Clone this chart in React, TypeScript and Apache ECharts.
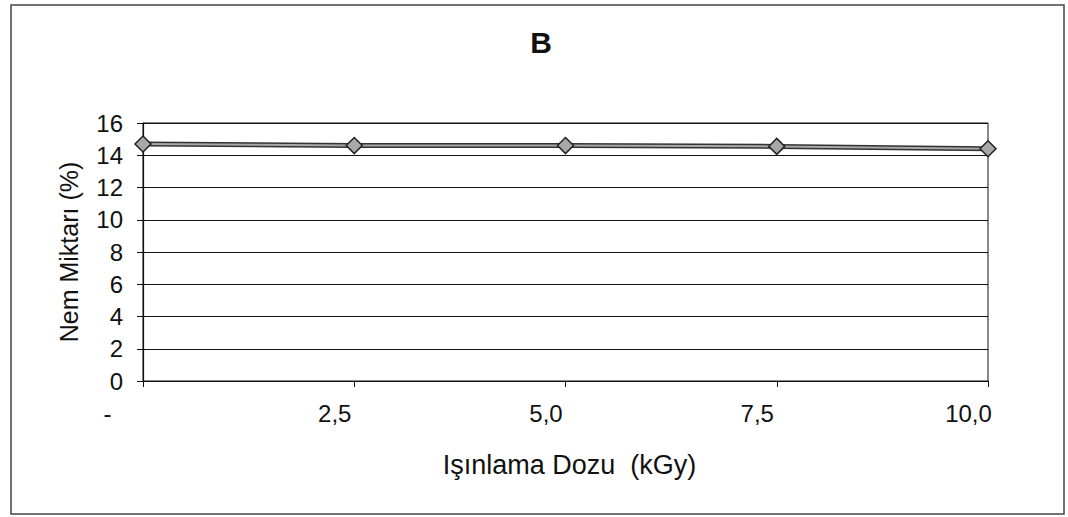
import React, { useEffect, useRef } from "react";
import * as echarts from "echarts";

// Irradiation dose categories (kGy) and measured moisture content (%)
const doseLabels = ["-", "2,5", "5,0", "7,5", "10,0"];
const moisture = [14.7, 14.6, 14.6, 14.55, 14.4];

const chartTitle = "B";
const xAxisTitle = "Işınlama Dozu  (kGy)";
const yAxisTitle = "Nem Miktarı (%)";

const yMin = 0;
const yMax = 16;
const yStep = 2;

const FONT = "'Liberation Sans', Arial, sans-serif";

export default function App() {
  const ref = useRef<HTMLDivElement>(null);

  useEffect(() => {
    document.body.style.margin = "0";
    if (!ref.current) return;
    const chart = echarts.init(ref.current, undefined, { renderer: "svg" });

    chart.setOption({
      animation: false,
      backgroundColor: "#ffffff",
      textStyle: { fontFamily: FONT },
      title: {
        text: chartTitle,
        left: 536,
        top: 22,
        textAlign: "center",
        textStyle: { fontFamily: FONT, fontSize: 30, fontWeight: "bold", color: "#111" },
      },
      graphic: [
        {
          type: "rect",
          shape: { x: 11, y: 5, width: 1053, height: 509 },
          style: { fill: "none", stroke: "#444", lineWidth: 1.5 },
          silent: true,
        },
      ],
      grid: {
        left: 143,
        right: 80,
        top: 123,
        bottom: 136,
        show: true,
        borderColor: "#111",
        borderWidth: 1,
        backgroundColor: "transparent",
      },
      xAxis: {
        type: "category",
        data: doseLabels,
        boundaryGap: false,
        name: xAxisTitle,
        nameLocation: "middle",
        nameGap: 70,
        nameTextStyle: { fontFamily: FONT, fontSize: 27, color: "#111", padding: [0, 0, 0, 8] },
        axisLine: { lineStyle: { color: "#111", width: 1.2 } },
        axisTick: { show: true, length: 6, lineStyle: { color: "#111" } },
        axisLabel: {
          margin: 20,
          fontFamily: FONT,
          fontSize: 24,
          color: "#111",
          formatter: (v: string) => (v === "-" ? `{d|${v}}` : `{n|${v}}`),
          rich: {
            d: { fontFamily: FONT, fontSize: 24, color: "#111", padding: [0, 71, 0, 0] },
            n: { fontFamily: FONT, fontSize: 24, color: "#111", padding: [0, 39, 0, 0] },
          },
        },
        splitLine: { show: false },
      },
      yAxis: {
        type: "value",
        min: yMin,
        max: yMax,
        interval: yStep,
        name: yAxisTitle,
        nameLocation: "middle",
        nameGap: 62,
        nameRotate: 90,
        nameTextStyle: { fontFamily: FONT, fontSize: 25, color: "#111" },
        axisLine: { show: true, lineStyle: { color: "#111", width: 1.2 } },
        axisTick: { show: true, length: 6, lineStyle: { color: "#111" } },
        axisLabel: { margin: 20, fontFamily: FONT, fontSize: 24, color: "#111" },
        splitLine: { show: true, lineStyle: { color: "#111", width: 1 } },
      },
      series: [
        {
          type: "line",
          data: moisture,
          symbol: "none",
          lineStyle: { color: "#333", width: 5 },
          z: 2,
        },
        {
          type: "line",
          data: moisture,
          symbol: "diamond",
          symbolSize: 16,
          itemStyle: { color: "#a8a8a8", borderColor: "#222", borderWidth: 1.5 },
          lineStyle: { color: "#a8a8a8", width: 2 },
          z: 3,
        },
      ],
    });

    return () => chart.dispose();
  }, []);

  return <div ref={ref} style={{ width: 1068, height: 517 }} />;
}
